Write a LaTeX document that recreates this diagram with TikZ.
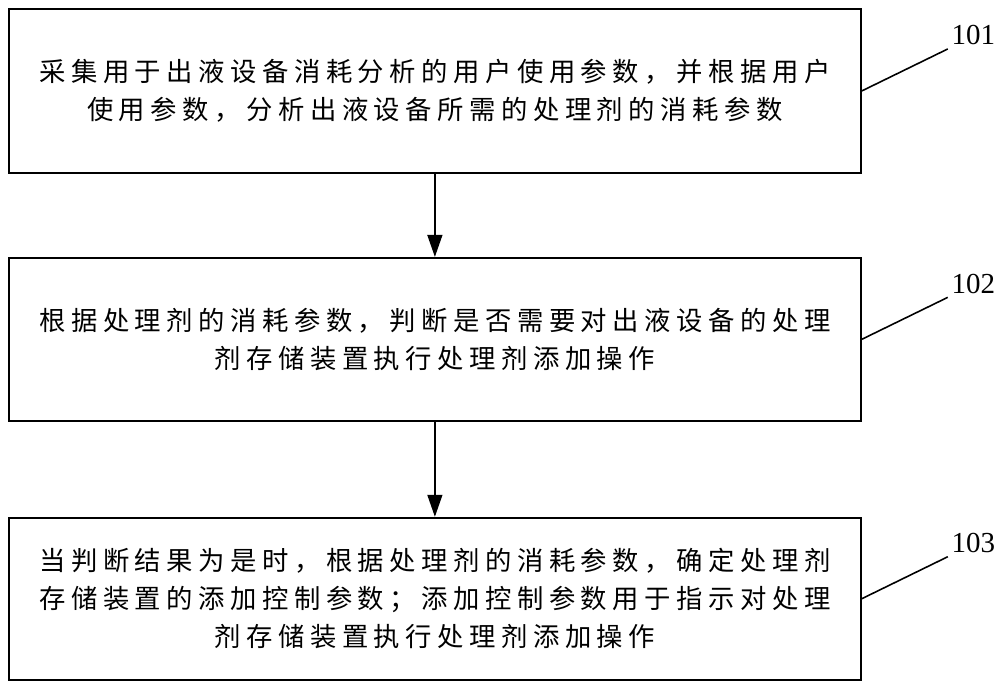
\documentclass[tikz,border=0pt]{standalone}
\usepackage{fontspec}
\setmainfont{Liberation Serif}
\newfontfamily\cjk[LetterSpace=20.9]{Noto Sans CJK SC}
\usetikzlibrary{positioning,arrows.meta,calc}
\tikzset{
  blk/.style={rectangle, draw=black, line width=1.1pt, align=center,
              minimum width=17.04cm, inner sep=0pt,
              font=\fontsize{15pt}{21.5pt}\selectfont\cjk},
  ar/.style={-{Triangle[length=4.4mm,width=3mm]}, line width=0.8pt, draw=black},
  lead/.style={line width=0.9pt, draw=black},
  tag/.style={font=\fontsize{16.5pt}{16.5pt}\selectfont, anchor=south west, inner sep=2pt},
}

\begin{document}
\begin{tikzpicture}[x=0.02cm,y=-0.02cm]
  \useasboundingbox (0,0) rectangle (1000,684);

  \node[blk, minimum height=3.28cm, anchor=north west] (s1) at (8,8)
    {采集用于出液设备消耗分析的用户使用参数，并根据用户\\使用参数，分析出液设备所需的处理剂的消耗参数};
  \node[blk, minimum height=3.26cm, below=1.66cm of s1] (s2)
    {根据处理剂的消耗参数，判断是否需要对出液设备的处理\\剂存储装置执行处理剂添加操作};
  \node[blk, minimum height=3.24cm, below=1.9cm of s2] (s3)
    {当判断结果为是时，根据处理剂的消耗参数，确定处理剂\\存储装置的添加控制参数；添加控制参数用于指示对处理\\剂存储装置执行处理剂添加操作};

  \draw[ar] (s1) -- (s2);
  \draw[ar] (s2) -- (s3);

  % step numbers with leader lines
  \node[tag] (t1) at ($(s1.east)+(86,-42)$) {101};
  \node[tag] (t2) at ($(s2.east)+(86,-42)$) {102};
  \node[tag] (t3) at ($(s3.east)+(86,-42)$) {103};
  \draw[lead] (s1.east) -- (t1.south west);
  \draw[lead] (s2.east) -- (t2.south west);
  \draw[lead] (s3.east) -- (t3.south west);
\end{tikzpicture}
\end{document}
